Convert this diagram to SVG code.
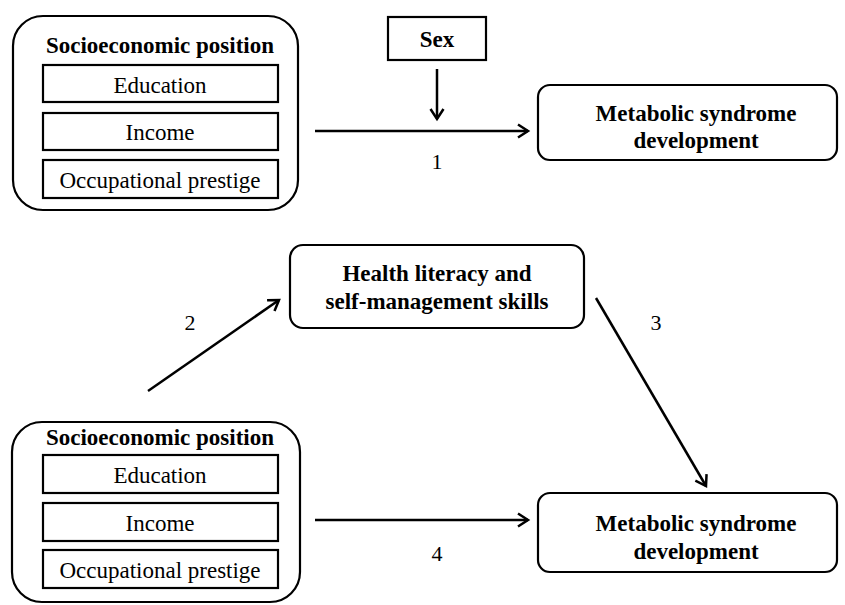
<svg xmlns="http://www.w3.org/2000/svg" width="845" height="605" viewBox="0 0 845 605">
<style>
.box{fill:#fff;stroke:#000;stroke-width:2.2}
.t{font-family:"Liberation Serif","Times New Roman",serif;font-size:23px;fill:#000;text-anchor:middle}
.b{font-weight:bold}
.n{font-family:"Liberation Serif","Times New Roman",serif;font-size:22px;fill:#000;text-anchor:middle}
.c{stroke:#000;stroke-width:2.5;fill:none;marker-end:url(#ah)}
</style>
<defs>
<marker id="ah" markerUnits="userSpaceOnUse" markerWidth="16" markerHeight="16" viewBox="0 0 16 16" refX="13" refY="8" orient="auto">
<path d="M3,1.5 L13,8 L3,14.5" fill="none" stroke="#000" stroke-width="2.5"/>
</marker>
</defs>
<rect width="845" height="605" fill="#fff"/>
<g id="sep1">
<rect class="box" x="13" y="16" width="285" height="194" rx="30"/>
<text class="t b" x="160" y="53">Socioeconomic position</text>
<rect class="box" x="43" y="65" width="235" height="37"/>
<text class="t" x="160" y="93">Education</text>
<rect class="box" x="43" y="113" width="235" height="37"/>
<text class="t" x="160" y="140">Income</text>
<rect class="box" x="43" y="160" width="235" height="38"/>
<text class="t" x="160" y="188">Occupational prestige</text>
</g>
<g id="sex">
<rect class="box" x="388" y="17" width="98" height="43"/>
<text class="t b" x="437" y="47">Sex</text>
</g>
<g id="ms1">
<rect class="box" x="538" y="85" width="299" height="75" rx="12"/>
<text class="t b" x="696" y="121">Metabolic syndrome</text>
<text class="t b" x="696" y="148">development</text>
</g>
<g id="hl">
<rect class="box" x="290" y="245" width="294" height="83" rx="13"/>
<text class="t b" x="437" y="281">Health literacy and</text>
<text class="t b" x="437" y="309">self-management skills</text>
</g>
<g id="sep2">
<rect class="box" x="12" y="422" width="288" height="180" rx="30"/>
<text class="t b" x="160" y="445">Socioeconomic position</text>
<rect class="box" x="43" y="455" width="235" height="38"/>
<text class="t" x="160" y="483">Education</text>
<rect class="box" x="43" y="503" width="235" height="38"/>
<text class="t" x="160" y="531">Income</text>
<rect class="box" x="43" y="550" width="235" height="38"/>
<text class="t" x="160" y="578">Occupational prestige</text>
</g>
<g id="ms2">
<rect class="box" x="538" y="493" width="299" height="79" rx="12"/>
<text class="t b" x="696" y="531">Metabolic syndrome</text>
<text class="t b" x="696" y="559">development</text>
</g>
<g id="connectors">
<line class="c" x1="437" y1="69" x2="437" y2="119"/>
<line class="c" x1="315" y1="131" x2="528" y2="131"/>
<line class="c" x1="148" y1="391" x2="279" y2="300"/>
<line class="c" x1="596" y1="298" x2="706" y2="486"/>
<line class="c" x1="315" y1="520" x2="528" y2="520"/>
<text class="n" x="437" y="169">1</text>
<text class="n" x="190" y="330">2</text>
<text class="n" x="656" y="330">3</text>
<text class="n" x="437" y="561">4</text>
</g>
</svg>
